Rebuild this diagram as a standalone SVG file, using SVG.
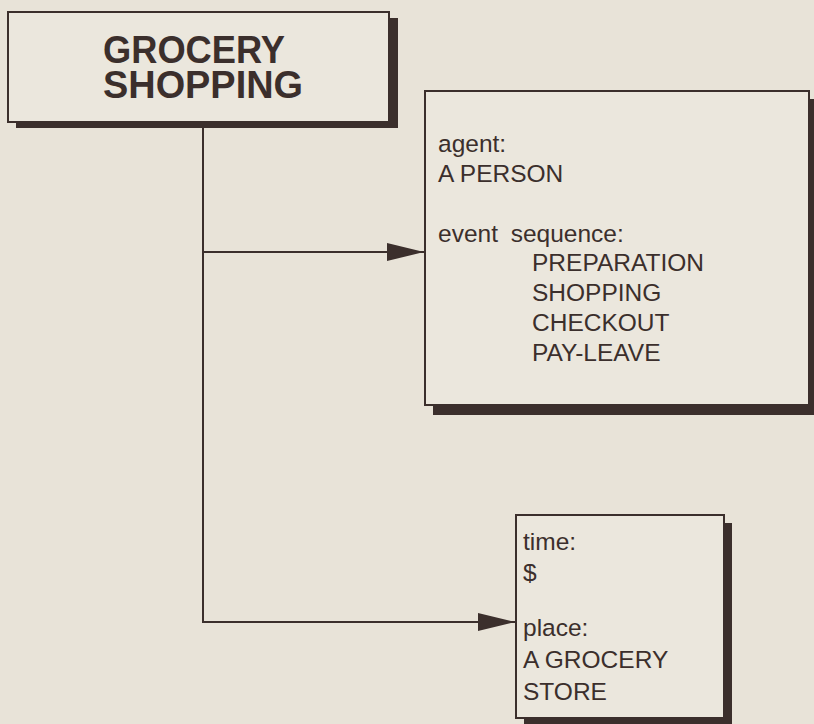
<svg xmlns="http://www.w3.org/2000/svg" width="814" height="724" viewBox="0 0 814 724">
<style>
.bg{fill:#e8e3d8}
.box{fill:#ebe7dd;stroke:#3b2f2c;stroke-width:2}
.shadow{fill:#3b2f2c}
.conn{fill:none;stroke:#3b2f2c;stroke-width:2}
.t{font-family:"Liberation Sans",Arial,sans-serif;fill:#3b2f2c;font-size:24.5px}
.title{font-family:"Liberation Sans",Arial,sans-serif;fill:#3b2f2c;font-size:38px;font-weight:bold}
</style>
<defs>
<marker id="arr" markerUnits="userSpaceOnUse" markerWidth="38" markerHeight="20" refX="37" refY="9" orient="auto">
<path d="M0,0 L37,9 L0,18 Z" fill="#3b2f2c"/>
</marker>
</defs>
<rect class="bg" x="0" y="0" width="814" height="724"/>
<g id="connectors">
<path class="conn" d="M203,122 V622 H515" marker-end="url(#arr)"/>
<path class="conn" d="M203,252 H424" marker-end="url(#arr)"/>
</g>
<g id="grocery-shopping">
<rect class="shadow" x="16" y="18" width="382" height="110"/>
<rect class="box" x="8" y="12" width="381" height="110"/>
<text class="title" x="103" y="63" textLength="182" lengthAdjust="spacingAndGlyphs">GROCERY</text>
<text class="title" x="103" y="98" textLength="200" lengthAdjust="spacingAndGlyphs">SHOPPING</text>
</g>
<g id="slots-box">
<rect class="shadow" x="433" y="99" width="390" height="316"/>
<rect class="box" x="425" y="91" width="384" height="314"/>
<text class="t" x="438" y="152">agent:</text>
<text class="t" x="438" y="182">A PERSON</text>
<text class="t" x="438" y="242" word-spacing="6">event sequence:</text>
<text class="t" x="532" y="271">PREPARATION</text>
<text class="t" x="532" y="301">SHOPPING</text>
<text class="t" x="532" y="331">CHECKOUT</text>
<text class="t" x="532" y="361">PAY-LEAVE</text>
</g>
<g id="time-place-box">
<rect class="shadow" x="524" y="523" width="208" height="210"/>
<rect class="box" x="516" y="515" width="208" height="203"/>
<text class="t" x="523" y="550">time:</text>
<text class="t" x="523" y="581">$</text>
<text class="t" x="523" y="636">place:</text>
<text class="t" x="523" y="668">A GROCERY</text>
<text class="t" x="523" y="700">STORE</text>
</g>
</svg>
